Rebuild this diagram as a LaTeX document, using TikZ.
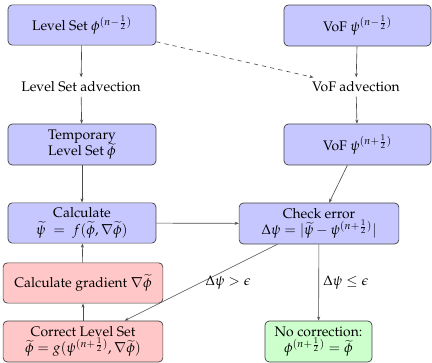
\documentclass[tikz,border=0pt]{standalone}
\usepackage[T1]{fontenc}
\usepackage{mathpazo}
\usetikzlibrary{arrows.meta}
\tikzset{
  box/.style={draw=black!75, rounded corners=3pt, align=center, inner sep=2pt, line width=0.5pt},
  bluebox/.style={box, fill=blue!22},
  redbox/.style={box, fill=red!22},
  greenbox/.style={box, fill=green!20},
  plain/.style={align=center, inner sep=3pt},
  conn/.style={draw=black!70, line width=0.45pt, -{Stealth[length=3pt,width=2.2pt]}},
  lbl/.style={inner sep=3pt}
}
\begin{document}
\begin{tikzpicture}[x=0.72pt,y=-0.72pt]
\useasboundingbox (0,0) rectangle (432,363);
\node[bluebox, minimum width=106.5pt, minimum height=29pt] (ls) at (82,25) {Level Set $\phi^{(n-\frac{1}{2})}$};
\node[bluebox, minimum width=105.8pt, minimum height=29.5pt] (vof) at (357.5,25.5) {VoF $\psi^{(n-\frac{1}{2})}$};
\node[plain] (lsadv) at (81,87) {Level Set advection};
\node[plain] (vofadv) at (356,87) {VoF advection};
\node[bluebox, minimum width=106.5pt, minimum height=29.5pt] (tmp) at (82,144.5) {Temporary\\Level Set $\widetilde{\phi}$};
\node[bluebox, minimum width=105.8pt, minimum height=29.5pt] (vofn) at (357.5,144.5) {VoF $\psi^{(n+\frac{1}{2})}$};
\node[bluebox, minimum width=106.5pt, minimum height=29pt] (calc) at (82,223) {Calculate\\$\widetilde{\psi} \;=\; f(\widetilde{\phi},\nabla\widetilde{\phi})$};
\node[bluebox, minimum width=115pt, minimum height=29.5pt] (check) at (319,223.5) {Check error\\$\Delta\psi = |\widetilde{\psi} - \psi^{(n+\frac{1}{2})}|$};
\node[redbox, minimum width=115pt, minimum height=29pt] (grad) at (83,283) {Calculate gradient $\nabla\widetilde{\phi}$};
\node[redbox, minimum width=115pt, minimum height=29.5pt] (corr) at (83,341.5) {Correct Level Set\\$\widetilde{\phi} = g(\psi^{(n+\frac{1}{2})},\nabla\widetilde{\phi})$};
\node[greenbox, minimum width=77pt, minimum height=29.5pt] (noc) at (318.5,341.5) {No correction:\\$\phi^{(n+\frac{1}{2})} = \widetilde{\phi}$};
\draw[conn] (ls) -- (lsadv);
\draw[conn] (lsadv) -- (tmp);
\draw[conn] (tmp) -- (calc);
\draw[conn] (vof) -- (vofadv);
\draw[conn] (vofadv) -- (vofn);
\draw[conn, dashed] (ls) -- (vofadv);
\draw[conn] (vofn) -- (check);
\draw[conn] (calc) -- (check);
\draw[conn] (check) -- node[lbl, midway, right] {$\Delta\psi > \epsilon$} (corr);
\draw[conn] (check) -- node[lbl, midway, right] {$\Delta\psi \leq \epsilon$} (noc);
\draw[conn] (corr) -- (grad);
\draw[conn] (grad) -- (calc);
\end{tikzpicture}
\end{document}
